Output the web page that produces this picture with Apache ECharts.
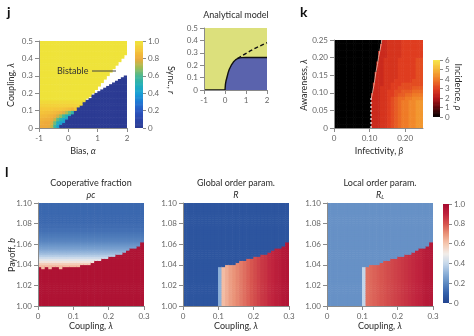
<!DOCTYPE html>
<html><head><meta charset="utf-8">
<script src="https://cdn.jsdelivr.net/npm/echarts@6/dist/echarts.min.js"></script>
<style>html,body{margin:0;padding:0;background:#fff}#c{width:474px;height:336px}</style>
</head><body><div id="c"></div>
<script>
// ===== Panel j : sync r over bias alpha (columns) and coupling lambda =====
const jAlpha = [-0.95,-0.85,-0.75,-0.65,-0.55,-0.45,-0.35,-0.25,-0.15,-0.05,0.05,0.15,0.25,0.35,0.45,0.55,0.65,0.75,0.85,0.95,1.05,1.15,1.25,1.35,1.45,1.55,1.65,1.75,1.85,1.95];
const jBlueTop = [0,0,0,0,0,0,0.005,0.018,0.032,0.05,0.068,0.085,0.10,0.118,0.133,0.148,0.162,0.175,0.187,0.198,0.21,0.222,0.232,0.243,0.255,0.265,0.275,0.285,0.295,0.305];
const jBistableTop = [0,0,0,0,0,0,0,0,0,0,0,0,0,0,0,0,0.168,0.185,0.205,0.225,0.245,0.262,0.28,0.298,0.318,0.336,0.356,0.376,0.398,0.425];
// sync values in lower-left corner (rows: lambda bands of 0.02 from 0; cols: first 16 alpha columns)
const jWarm = [
 [0.80,0.80,0.80,0.79,0.74,0.56,0.42,0.40,0.40,0.40,0.40,0.40,0.40,0.40,0.40,0.40],
 [0.82,0.81,0.80,0.80,0.77,0.64,0.48,0.42,0.40,0.40,0.40,0.40,0.40,0.40,0.40,0.40],
 [0.84,0.83,0.82,0.82,0.80,0.74,0.62,0.52,0.45,0.42,0.40,0.40,0.40,0.40,0.40,0.40],
 [0.86,0.85,0.85,0.84,0.83,0.81,0.76,0.68,0.58,0.50,0.45,0.42,0.42,0.42,0.42,0.42],
 [0.88,0.88,0.87,0.87,0.86,0.85,0.84,0.82,0.78,0.72,0.64,0.55,0.50,0.50,0.50,0.50],
 [0.90,0.90,0.90,0.90,0.90,0.89,0.89,0.89,0.88,0.87,0.86,0.84,0.88,0.92,0.95,0.95],
 [0.93,0.93,0.93,0.93,0.93,0.93,0.93,0.93,0.93,0.93,0.93,0.93,0.94,0.95,0.96,0.96],
 [0.96,0.96,0.96,0.96,0.96,0.96,0.96,0.96,0.96,0.96,0.96,0.96,0.97,0.97,0.97,0.97]
];
const jXTicks = [-1,0,1,2];
const jYTicks = [0,0.1,0.2,0.3,0.4,0.5];
const jCbarTicks = [0,0.2,0.4,0.6,0.8,1.0];

// ===== Inset: analytical model =====
const insetAlpha  = [-1,0,0.02,0.05,0.1,0.15,0.2,0.3,0.4,0.5,0.6,0.7,0.8,1.0,1.5,2.0];
const insetLambda = [0,0,0.045,0.075,0.107,0.14,0.165,0.2,0.225,0.243,0.254,0.259,0.261,0.262,0.262,0.262];
const insetDashAlpha  = [0.6,0.9,1.2,1.5,1.8,2.0];
const insetDashLambda = [0.254,0.285,0.315,0.342,0.366,0.382];

// ===== Panel k : incidence over infectivity beta and awareness lambda =====
const kEdge = [0.104,0.104,0.104,0.104,0.104,0.104,0.104,0.104,0.105,0.106,0.108,0.110,0.112,0.114,0.115,0.117,0.118,0.120,0.122,0.123,0.125,0.127,0.129,0.131,0.133];
// incidence in quarter units (base-36 char), rows lambda 0..0.25 by 0.01, cols beta 0.10..0.25 by 0.01
const kVal = [
 "aaabbcdefgghhii","aaabbcdefgghhii","aaabbcdefgghhii","aaabbcdefgghhii","aaabbcdefgghhii",
 "aaabbcdefgghhii","aaabbcdefgghhii","aaabbcdefgghhii","aaabbcdeffgghhh","aaabbccdeeffggg",
 "aaabbccddeeefff","aaabbbccddddeee","aaaabbcccdddddd","aaaabbbcccccddd","aaaabbbbcccccdd",
 "aaaabbbbcccccdd","aaaabbbbcccccdd","aaaabbbbcccccdd","aaaabbbbcccccdd","aaaabbbbcccccdd",
 "aaaaabbbbcccccc","aaaaabbbbcccccc","aaaaabbbbcccccc","aaaaabbbbcccccc","aaaaabbbbcccccc"
];
const kDashBeta = [0.104,0.104], kDashLambda = [0,0.085];
const kLineBeta   = [0.105,0.108,0.112,0.115,0.118,0.122,0.125,0.129,0.133,0.134];
const kLineLambda = [0.085,0.10,0.12,0.14,0.16,0.18,0.20,0.22,0.24,0.25];
const kXTicks = [0,0.1,0.2];
const kYTicks = [0,0.05,0.10,0.15,0.20,0.25];
const kCbarTicks = [0,1,2,3,4,5,6];

// ===== Panel l : three maps over coupling lambda (cols) and payoff b =====
const lBoundary = [1.038,1.037,1.038,1.037,1.038,1.038,1.037,1.038,1.039,1.038,1.039,1.039,1.040,1.040,1.041,1.0425,1.0435,1.045,1.046,1.047,1.048,1.049,1.050,1.051,1.0525,1.055,1.056,1.057,1.059,1.062];
const pcBelow = [0.97,0.97,0.97,0.97,0.97,0.97,0.97,0.97,0.97,0.97,0.97,0.97,0.97,0.97,0.97,0.97,0.97,0.97,0.97,0.97,0.97,0.97,0.97,0.97,0.97,0.97,0.97,0.97,0.97,0.97];
const pcAboveByRow = [0.6,0.6,0.6,0.6,0.6,0.6,0.6,0.6,0.6,0.6,0.6,0.6,0.6,0.6,0.6,0.6,0.6,0.6,
 0.62,0.62,0.58,0.52,0.47,0.42,0.37,0.33,0.30,0.27,0.25,0.23,0.21,0.19,0.18,0.17,0.16,0.15,0.14,0.14,0.13,0.13,
 0.12,0.12,0.12,0.12,0.12,0.12,0.12,0.12,0.12,0.12];
const rBelow = [0.06,0.06,0.06,0.06,0.06,0.06,0.06,0.06,0.06,0.06,0.30,0.62,0.65,0.68,0.70,0.72,0.74,0.76,0.78,0.80,0.82,0.84,0.86,0.87,0.89,0.90,0.92,0.93,0.95,0.96];
const rAbove = [0.06,0.06,0.06,0.06,0.06,0.06,0.06,0.06,0.06,0.06,0.06,0.06,0.06,0.06,0.06,0.06,0.06,0.06,0.06,0.06,0.06,0.06,0.06,0.06,0.06,0.06,0.06,0.06,0.06,0.06];
const rlBelow = [0.22,0.22,0.22,0.22,0.22,0.22,0.22,0.22,0.22,0.22,0.40,0.76,0.77,0.78,0.79,0.80,0.81,0.82,0.83,0.84,0.85,0.86,0.87,0.88,0.89,0.90,0.91,0.93,0.94,0.95];
const rlAbove = [0.22,0.22,0.22,0.22,0.22,0.22,0.22,0.22,0.22,0.22,0.22,0.22,0.22,0.22,0.22,0.22,0.22,0.22,0.22,0.22,0.22,0.22,0.22,0.22,0.22,0.22,0.22,0.22,0.22,0.22];
const lXTicks = [0,0.1,0.2,0.3];
const lYTicks = [1.00,1.02,1.04,1.06,1.08,1.10];
const lCbarTicks = [0,0.2,0.4,0.6,0.8,1.0];

// ===== colour maps =====
const jColors = ['#2c3b93','#2c45a8','#2a56c0','#1f78d4','#1a9fd5','#22b0b8','#4ab894','#a0bd55','#eeaa3c','#f5c93a','#efe33a'];
const kColors = ['#000000','#5c0a0c','#b51719','#df3d20','#ef7b27','#f5b336','#f7e64a'];
const lColors = ['#23448f','#3360aa','#5d89c2','#8db0d8','#c3d6ea','#f1ece8','#f5c6ae','#ea9479','#d75650','#c0243e','#a80c30'];

// ===== build cells =====
const jCells = [];
jAlpha.forEach((a, c) => {
  for (let r = 0; r < 50; r++) {
    const l0 = r * 0.01, lc = l0 + 0.005;
    let v;
    if (lc < jBlueTop[c]) v = 0;
    else if (lc < jBistableTop[c]) continue;
    else {
      const wr = Math.floor(r / 2);
      v = (c < 16 && wr < 8) ? jWarm[wr][c] : 1;
    }
    jCells.push([a - 0.05, a + 0.05, l0, l0 + 0.01, v]);
  }
});
const kCells = [];
for (let r = 0; r < 25; r++) {
  for (let c = 0; c < 50; c++) {
    const b0 = c * 0.005, bc = b0 + 0.0025;
    const v = bc < kEdge[r] ? 0 : parseInt(kVal[r][Math.floor(bc / 0.01) - 10], 36) / 4;
    kCells.push([b0, b0 + 0.005, r * 0.01, r * 0.01 + 0.01, v]);
  }
}
function buildL(below, above) {
  const out = [];
  for (let c = 0; c < 30; c++) {
    for (let r = 0; r < 50; r++) {
      const b0 = 1 + r * 0.002, bc = b0 + 0.001;
      const v = bc < lBoundary[c] ? below(c, r) : above(c, r);
      out.push([c * 0.01, c * 0.01 + 0.01, b0, b0 + 0.002, v]);
    }
  }
  return out;
}
const l1Cells = buildL(c => pcBelow[c], (c, r) => pcAboveByRow[r]);
const l2Cells = buildL(c => rBelow[c], c => rAbove[c]);
const l3Cells = buildL(c => rlBelow[c], c => rlAbove[c]);
function cbar(min, max) {
  const out = [], N = 100;
  for (let i = 0; i < N; i++) {
    const v0 = min + (max - min) * i / N, v1 = min + (max - min) * (i + 1) / N;
    out.push([0, 1, v0, v1, (v0 + v1) / 2]);
  }
  return out;
}

// ===== chart =====
const F = 'Lato, "Open Sans", sans-serif';
function cellRender(params, api) {
  const p0 = api.coord([api.value(0), api.value(2)]);
  const p1 = api.coord([api.value(1), api.value(3)]);
  const x = Math.min(p0[0], p1[0]), y = Math.min(p0[1], p1[1]);
  return { type: 'rect', shape: { x: x - 0.3, y: y - 0.3, width: Math.abs(p1[0] - p0[0]) + 0.6, height: Math.abs(p1[1] - p0[1]) + 0.6 },
    style: { fill: api.visual('color') } };
}
function cellSeries(gi, data) {
  return { type: 'custom', xAxisIndex: gi, yAxisIndex: gi, data, renderItem: cellRender, clip: true,
    encode: { x: [0, 1], y: [2, 3] }, silent: true };
}
const axLine = { show: true, onZero: false, lineStyle: { color: '#8a8a8a', width: 1 } };
function valAxis(gi, min, max, ticks, fmt, extra) {
  return Object.assign({ type: 'value', gridIndex: gi, min, max, z: 10,
    axisLine: axLine,
    axisTick: { show: true, length: 4, lineStyle: { color: '#8a8a8a' }, customValues: ticks },
    axisLabel: { fontSize: 8, color: '#666', margin: 6, fontFamily: F, formatter: fmt, customValues: ticks },
    splitLine: { show: false } }, extra || {});
}
function hidden(gi) { return { type: 'value', gridIndex: gi, min: 0, max: 1, show: false }; }
function cbarAxis(gi, min, max, ticks, fmt) {
  return { type: 'value', gridIndex: gi, min, max, position: 'right', z: 10,
    axisLine: { show: false, onZero: false },
    axisTick: { show: true, length: 3, lineStyle: { color: '#8a8a8a' }, customValues: ticks },
    axisLabel: { fontSize: 8, color: '#666', margin: 5, fontFamily: F, formatter: fmt, customValues: ticks },
    splitLine: { show: false } };
}
const fInt = v => String(Math.round(v));
const f1 = v => (Math.abs(v) < 1e-9 ? '0' : (Math.round(v * 10) / 10).toFixed(1));
const f1s = v => (Math.abs(v) < 1e-9 ? '0' : String(Math.round(v * 10) / 10));
const f2z = v => (Math.abs(v) < 1e-9 ? '0' : (Math.round(v * 100) / 100).toFixed(2));
const f2 = v => (Math.round(v * 100) / 100).toFixed(2);

const grids = [
  { left: 39, top: 41, width: 88, height: 87 },
  { left: 135, top: 41, width: 8, height: 87 },
  { left: 204, top: 28, width: 63, height: 62, show: true, backgroundColor: '#dce07c', borderWidth: 0 },
  { left: 334, top: 40, width: 89, height: 88 },
  { left: 433, top: 60, width: 7, height: 57 },
  { left: 38, top: 203, width: 106, height: 103 },
  { left: 183, top: 203, width: 106, height: 103 },
  { left: 327, top: 203, width: 106, height: 103 },
  { left: 443, top: 204, width: 6, height: 99 }
].map(g => Object.assign({ containLabel: false, outerBoundsMode: 'none' }, g));

const xAxis = [
  valAxis(0, -1, 2, jXTicks, fInt),
  hidden(1),
  valAxis(2, -1, 2, jXTicks, fInt),
  valAxis(3, 0, 0.25, kXTicks, f2z),
  hidden(4),
  valAxis(5, 0, 0.3, lXTicks, f1s),
  valAxis(6, 0, 0.3, lXTicks, f1s),
  valAxis(7, 0, 0.3, lXTicks, f1s),
  hidden(8)
];
const yAxis = [
  valAxis(0, 0, 0.5, jYTicks, f1s),
  cbarAxis(1, 0, 1, jCbarTicks, f1),
  valAxis(2, 0, 0.5, jYTicks, f1s),
  valAxis(3, 0, 0.25, kYTicks, f2z),
  cbarAxis(4, 0, 6, kCbarTicks, fInt),
  valAxis(5, 1, 1.1, lYTicks, f2),
  valAxis(6, 1, 1.1, lYTicks, f2),
  valAxis(7, 1, 1.1, lYTicks, f2),
  cbarAxis(8, 0, 1, lCbarTicks, f1)
];

const series = [
  cellSeries(0, jCells),                       // 0
  cellSeries(1, cbar(0, 1)),                   // 1
  { type: 'line', xAxisIndex: 2, yAxisIndex: 2, data: insetAlpha.map((a, i) => [a, insetLambda[i]]),
    symbol: 'none', lineStyle: { color: '#111', width: 1.4 }, areaStyle: { color: '#5a63ad', opacity: 1, origin: 'start' }, z: 3 }, // 2
  { type: 'line', xAxisIndex: 2, yAxisIndex: 2, data: insetDashAlpha.map((a, i) => [a, insetDashLambda[i]]),
    symbol: 'none', lineStyle: { color: '#111', width: 1.4, type: [4, 2.5] }, z: 3 }, // 3
  cellSeries(3, kCells),                       // 4
  { type: 'line', xAxisIndex: 3, yAxisIndex: 3, data: kDashBeta.map((b, i) => [b, kDashLambda[i]]),
    symbol: 'none', lineStyle: { color: '#ffffff', width: 1.2, type: [2, 2] }, z: 4 }, // 5
  { type: 'line', xAxisIndex: 3, yAxisIndex: 3, data: kLineBeta.map((b, i) => [b, kLineLambda[i]]),
    symbol: 'none', lineStyle: { color: '#f2c4b4', width: 0.8 }, z: 4 }, // 6
  cellSeries(4, cbar(0, 6)),                   // 7
  cellSeries(5, l1Cells),                      // 8
  cellSeries(6, l2Cells),                      // 9
  cellSeries(7, l3Cells),                      // 10
  cellSeries(8, cbar(0, 1))                    // 11
];

const visualMap = [
  { type: 'continuous', show: false, min: 0, max: 1, dimension: 4, seriesIndex: [0, 1], inRange: { color: jColors } },
  { type: 'continuous', show: false, min: 0, max: 6, dimension: 4, seriesIndex: [4, 7], inRange: { color: kColors } },
  { type: 'continuous', show: false, min: 0, max: 1, dimension: 4, seriesIndex: [8, 9, 10, 11], inRange: { color: lColors } }
];

function T(text, x, y, o) {
  o = o || {};
  return { type: 'text', x, y, rotation: o.rot || 0, z: 100,
    style: { text, fill: o.color || '#2a2a2a', fontSize: o.size || 9, fontFamily: F, fontWeight: o.weight || 'normal',
      fontStyle: o.style || 'normal', align: o.align || 'center', verticalAlign: 'middle', rich: o.rich } };
}
const richIt = { n: { fontSize: 9, fontFamily: F, fill: '#2a2a2a' }, i: { fontSize: 9, fontFamily: F, fontStyle: 'italic', fill: '#2a2a2a' },
  s: { fontSize: 6, fontFamily: F, fontStyle: 'italic', fill: '#2a2a2a', verticalAlign: 'bottom', padding: [4, 0, 0, 0] } };
const graphic = [
  T('j', 7, 12, { size: 14, weight: 'bold', align: 'left', color: '#111' }),
  T('k', 300, 12, { size: 14, weight: 'bold', align: 'left', color: '#111' }),
  T('l', 5, 172, { size: 14, weight: 'bold', align: 'left', color: '#111' }),
  T('Bistable', 57, 71, { align: 'left', color: '#333' }),
  { type: 'line', z: 100, shape: { x1: 92, y1: 71, x2: 116, y2: 71 }, style: { stroke: '#444', lineWidth: 1 } },
  T('Analytical model', 236, 15),
  T('{n|Sync., }{i|r}', 171, 80, { rot: -Math.PI / 2, rich: richIt }),
  T('{n|Coupling, }{i|λ}', 11, 85, { rot: Math.PI / 2, rich: richIt }),
  T('{n|Bias, }{i|α}', 83, 151, { rich: richIt }),
  T('{n|Awareness, }{i|λ}', 304, 85, { rot: Math.PI / 2, rich: richIt }),
  T('{n|Infectivity, }{i|β}', 379, 151, { rich: richIt }),
  T('{n|Incidence, }{i|ρ}', 458, 87, { rot: -Math.PI / 2, rich: richIt }),
  T('Cooperative fraction', 91, 183),
  T('ρc', 91, 195, { style: 'italic' }),
  T('Global order param.', 236, 183),
  T('R', 236, 195, { style: 'italic' }),
  T('Local order param.', 380, 183),
  T('{i|R}{s|L}', 380, 195, { rich: richIt }),
  T('{n|Payoff, }{i|b}', 12, 255, { rot: Math.PI / 2, rich: richIt }),
  T('{n|Coupling, }{i|λ}', 91, 326, { rich: richIt }),
  T('{n|Coupling, }{i|λ}', 236, 326, { rich: richIt }),
  T('{n|Coupling, }{i|λ}', 380, 326, { rich: richIt })
];

const chart = echarts.init(document.getElementById('c'), null, { renderer: 'canvas', width: 474, height: 336 });
chart.setOption({ animation: false, backgroundColor: '#fff', grid: grids, xAxis, yAxis, series, visualMap, graphic });
</script></body></html>
